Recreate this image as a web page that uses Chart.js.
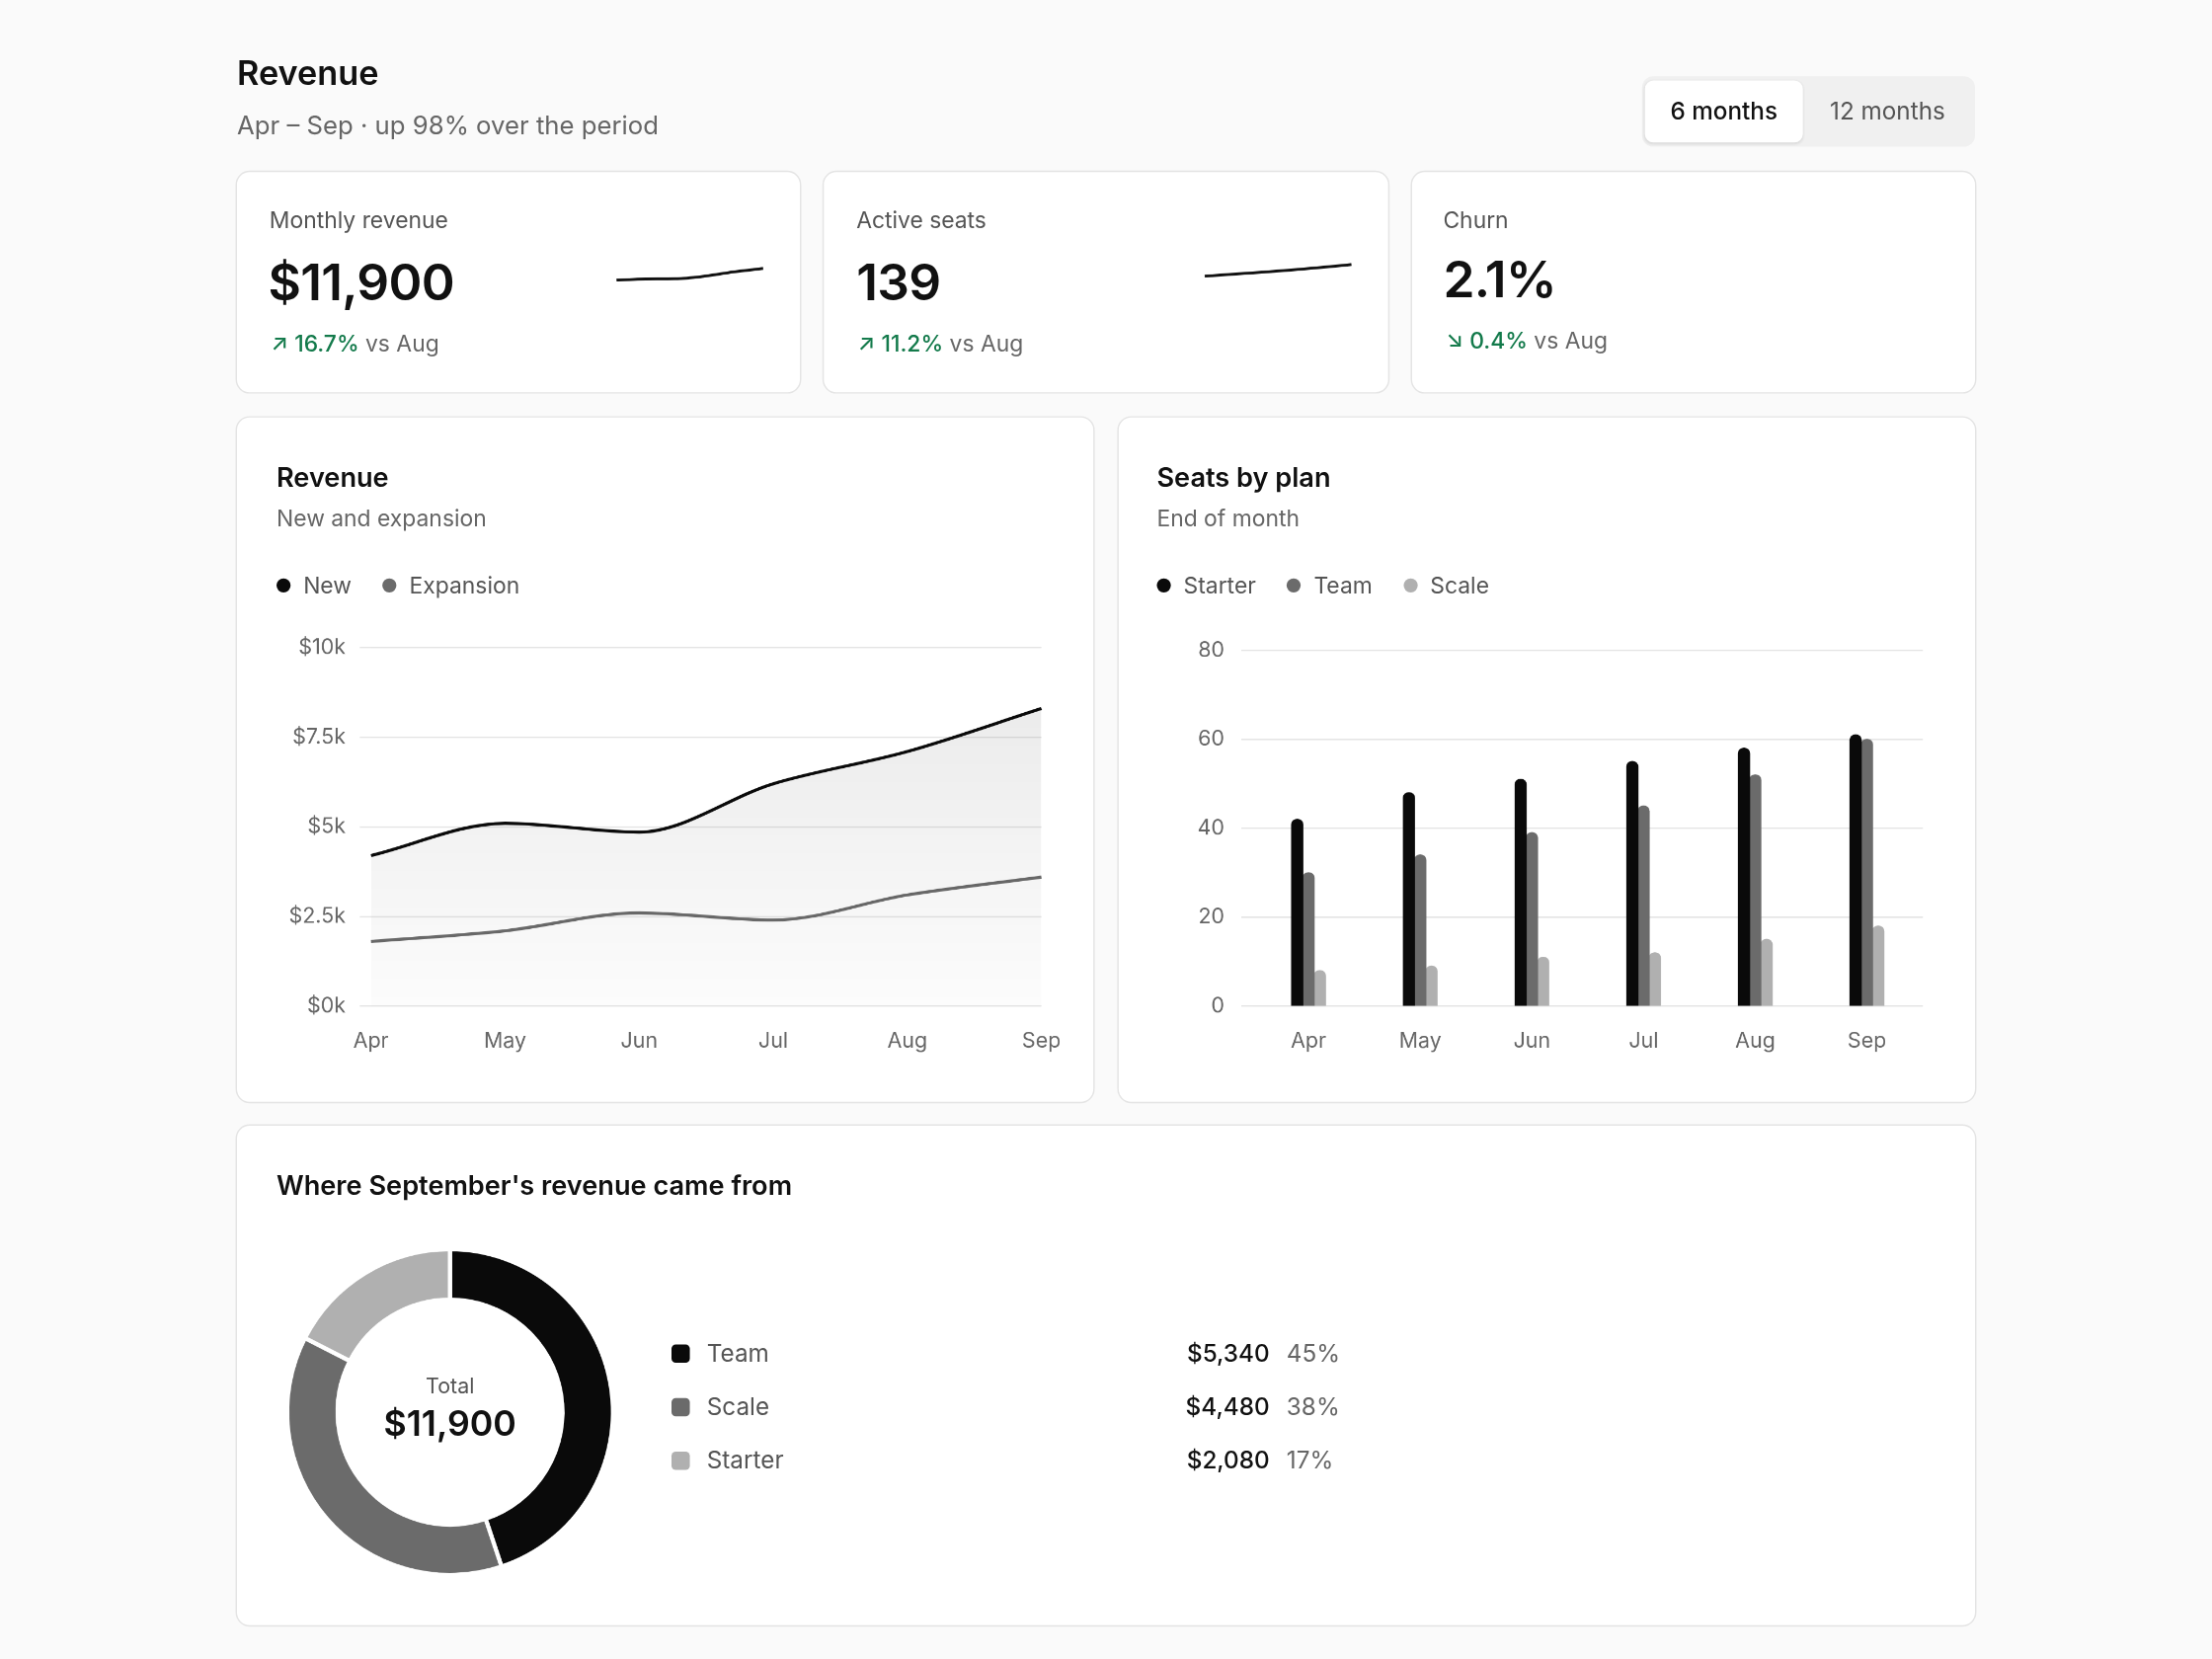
<!DOCTYPE html>
<html>
<head>
<meta charset="utf-8">
<script src="https://cdn.jsdelivr.net/npm/chart.js@4.4.1/dist/chart.umd.min.js"></script>
<style>
  html, body { margin: 0; padding: 0; background: #fafafa; overflow: hidden; }
  body { width: 2240px; height: 1680px; font-family: Inter, "Noto Sans", sans-serif; color: #111; }
  #page { position: absolute; left: 0; top: 0; width: 1568px; height: 1176px; transform: scale(1.428571); transform-origin: 0 0; }
  .abs { position: absolute; }
  .card { position: absolute; background: #fff; border: 1.5px solid #e4e4e4; border-radius: 10px; box-sizing: border-box; }
  .lbl { font-size: 16px; color: #555; }
  .big { font-size: 36px; font-weight: 600; letter-spacing: -0.5px; }
  .delta { font-size: 16px; color: #666; }
  .delta b { color: #137a4b; font-weight: 500; }
  .ttl { font-size: 19px; font-weight: 600; }
  .sub { font-size: 16px; color: #666; }
  .leg { font-size: 16px; color: #555; display: flex; gap: 22px; }
  .leg span { display: inline-flex; align-items: center; }
  .dot { width: 10px; height: 10px; border-radius: 50%; display: inline-block; margin-right: 9px; }
  .sq { width: 13px; height: 13px; border-radius: 3px; display: inline-block; margin-right: 12px; }
</style>
</head>
<body>
<div id="page">
  <div class="abs" style="left:168px;top:37px;font-size:24px;font-weight:600;">Revenue</div>
  <div class="abs" style="left:168px;top:78px;font-size:18px;color:#666;">Apr – Sep · up 98% over the period</div>
  <div class="abs" style="left:1164px;top:54px;width:236px;height:50px;background:#f0f0f0;border-radius:8px;"></div>
  <div class="abs" style="left:1166px;top:57px;width:112px;height:44px;background:#fff;border-radius:6px;box-shadow:0 1px 2px rgba(0,0,0,0.1);font-size:17px;line-height:44px;text-align:center;font-weight:500;">6 months</div>
  <div class="abs" style="left:1282px;top:57px;width:112px;height:44px;font-size:17px;line-height:44px;text-align:center;color:#555;">12 months</div>

  <div class="card" style="left:167px;top:121px;width:401px;height:158px;"></div>
  <div class="abs lbl" style="left:191px;top:146px;">Monthly revenue</div>
  <div class="abs big" style="left:190px;top:178px;">$11,900</div>
  <div class="abs delta" style="left:192px;top:233px;"><b>↗ 16.7%</b> vs Aug</div>
  <div class="abs" style="left:434px;top:176px;width:110px;height:34px;"><canvas id="spark1"></canvas></div>

  <div class="card" style="left:583px;top:121px;width:402px;height:158px;"></div>
  <div class="abs lbl" style="left:607px;top:146px;">Active seats</div>
  <div class="abs big" style="left:607px;top:178px;">139</div>
  <div class="abs delta" style="left:608px;top:233px;"><b>↗ 11.2%</b> vs Aug</div>
  <div class="abs" style="left:851px;top:176px;width:110px;height:34px;"><canvas id="spark2"></canvas></div>

  <div class="card" style="left:1000px;top:121px;width:401px;height:158px;"></div>
  <div class="abs lbl" style="left:1023px;top:146px;">Churn</div>
  <div class="abs big" style="left:1023px;top:176px;">2.1%</div>
  <div class="abs delta" style="left:1025px;top:231px;"><b>↘ 0.4%</b> vs Aug</div>

  <div class="card" style="left:167px;top:295px;width:609px;height:487px;"></div>
  <div class="abs ttl" style="left:196px;top:327px;">Revenue</div>
  <div class="abs sub" style="left:196px;top:357px;">New and expansion</div>
  <div class="abs leg" style="left:196px;top:405px;">
    <span><i class="dot" style="background:#0a0a0a"></i>New</span>
    <span><i class="dot" style="background:#6b6b6b"></i>Expansion</span>
  </div>
  <div class="abs" style="left:196px;top:440px;width:564px;height:315px;"><canvas id="revChart"></canvas></div>

  <div class="card" style="left:792px;top:295px;width:609px;height:487px;"></div>
  <div class="abs ttl" style="left:820px;top:327px;">Seats by plan</div>
  <div class="abs sub" style="left:820px;top:357px;">End of month</div>
  <div class="abs leg" style="left:820px;top:405px;">
    <span><i class="dot" style="background:#0a0a0a"></i>Starter</span>
    <span><i class="dot" style="background:#6b6b6b"></i>Team</span>
    <span><i class="dot" style="background:#b0b0b0"></i>Scale</span>
  </div>
  <div class="abs" style="left:820px;top:440px;width:560px;height:315px;"><canvas id="seatChart"></canvas></div>

  <div class="card" style="left:167px;top:797px;width:1234px;height:356px;"></div>
  <div class="abs ttl" style="left:196px;top:829px;">Where September's revenue came from</div>
  <div class="abs" style="left:199px;top:881px;width:240px;height:240px;"><canvas id="donut"></canvas></div>
  <div class="abs" style="left:219px;top:973px;width:200px;text-align:center;font-size:15px;color:#555;">Total</div>
  <div class="abs" style="left:219px;top:994px;width:200px;text-align:center;font-size:25px;font-weight:600;">$11,900</div>
  <div id="mixList"></div>
</div>
<script>
  // Revenue by month, $k
  const months = ["Apr", "May", "Jun", "Jul", "Aug", "Sep"];
  const newRevenue = [4.2, 5.1, 4.85, 6.2, 7.1, 8.3];
  const expansionRevenue = [1.8, 2.1, 2.6, 2.4, 3.1, 3.6];
  const revenueTicks = [0, 2.5, 5, 7.5, 10];

  // Seats by plan
  const starterSeats = [42, 48, 51, 55, 58, 61];
  const teamSeats = [30, 34, 39, 45, 52, 60];
  const scaleSeats = [8, 9, 11, 12, 15, 18];

  // Sparklines
  const revenueTotals = [6.0, 6.6, 6.7, 8.0, 10.2, 11.9];
  const seatTotals = [80, 91, 101, 112, 125, 139];

  // September mix
  const mixLabels = ["Team", "Scale", "Starter"];
  const mixValues = [5340, 4480, 2080];
  const mixColors = ["#0a0a0a", "#6b6b6b", "#b0b0b0"];

  const DPR = 2.5;
  Chart.defaults.font.family = "Inter, 'Noto Sans', sans-serif";
  Chart.defaults.animation = false;

  function drawSpark(id, data) {
    new Chart(document.getElementById(id), {
      type: "line",
      data: { labels: months, datasets: [{ data: data, borderColor: "#111", borderWidth: 2, pointRadius: 0, cubicInterpolationMode: "monotone" }] },
      options: {
        devicePixelRatio: DPR, responsive: true, maintainAspectRatio: false,
        plugins: { legend: { display: false }, tooltip: { enabled: false } },
        scales: { x: { display: false }, y: { display: false } },
        layout: { padding: 3 }
      }
    });
  }
  drawSpark("spark1", revenueTotals);
  drawSpark("spark2", seatTotals);

  const tickStyle = { color: "#666", font: { size: 15 } };

  new Chart(document.getElementById("revChart"), {
    type: "line",
    data: {
      labels: months,
      datasets: [
        {
          label: "New", data: newRevenue, borderColor: "#0a0a0a", borderWidth: 2.2, pointRadius: 0,
          cubicInterpolationMode: "monotone", fill: "origin",
          backgroundColor: function (c) {
            const a = c.chart.chartArea;
            if (!a) return "rgba(0,0,0,0.05)";
            const g = c.chart.ctx.createLinearGradient(0, a.top, 0, a.bottom);
            g.addColorStop(0, "rgba(0,0,0,0.09)");
            g.addColorStop(1, "rgba(0,0,0,0.01)");
            return g;
          }
        },
        {
          label: "Expansion", data: expansionRevenue, borderColor: "#6b6b6b", borderWidth: 2.2, pointRadius: 0,
          cubicInterpolationMode: "monotone", fill: false
        }
      ]
    },
    options: {
      devicePixelRatio: DPR, responsive: true, maintainAspectRatio: false,
      layout: { padding: { top: 13, right: 21, bottom: 0, left: 0 } },
      plugins: { legend: { display: false }, tooltip: { enabled: false } },
      scales: {
        x: { grid: { display: false }, border: { display: false }, ticks: { ...tickStyle, padding: 8 } },
        y: {
          min: 0, max: 10, border: { display: false },
          grid: { color: "#e4e4e4" },
          afterBuildTicks: (s) => { s.ticks = revenueTicks.map((v) => ({ value: v })); },
          afterFit: (s) => { s.width = 67; },
          ticks: { ...tickStyle, padding: 10, callback: (v) => "$" + v + "k" }
        }
      }
    }
  });

  new Chart(document.getElementById("seatChart"), {
    type: "bar",
    data: {
      labels: months,
      datasets: [
        { label: "Starter", data: starterSeats, backgroundColor: "#0a0a0a" },
        { label: "Team", data: teamSeats, backgroundColor: "#6b6b6b" },
        { label: "Scale", data: scaleSeats, backgroundColor: "#b0b0b0" }
      ]
    },
    options: {
      devicePixelRatio: DPR, responsive: true, maintainAspectRatio: false,
      datasets: { bar: { barThickness: 8, categoryPercentage: 0.44, borderRadius: { topLeft: 4, topRight: 4 }, borderSkipped: "bottom" } },
      layout: { padding: { top: 13, right: 17, bottom: 0, left: 0 } },
      plugins: { legend: { display: false }, tooltip: { enabled: false } },
      scales: {
        x: { grid: { display: false }, border: { display: false }, ticks: { ...tickStyle, padding: 8 } },
        y: {
          min: 0, max: 80, border: { display: false },
          grid: { color: "#e4e4e4" },
          afterFit: (s) => { s.width = 68; },
          ticks: { ...tickStyle, stepSize: 20, padding: 12 }
        }
      }
    }
  });

  new Chart(document.getElementById("donut"), {
    type: "doughnut",
    data: { labels: mixLabels, datasets: [{ data: mixValues, backgroundColor: mixColors, borderColor: "#fff", borderWidth: 3 }] },
    options: {
      devicePixelRatio: DPR, responsive: true, maintainAspectRatio: false, cutout: "69%",
      layout: { padding: 3 },
      plugins: { legend: { display: false }, tooltip: { enabled: false } }
    }
  });

  // legend rows for the mix
  const total = mixValues.reduce((a, b) => a + b, 0);
  const list = document.getElementById("mixList");
  mixLabels.forEach(function (name, i) {
    const y = 949 + i * 38;
    list.insertAdjacentHTML("beforeend",
      '<div class="abs" style="left:476px;top:' + y + 'px;font-size:17px;color:#555;display:flex;align-items:center;">' +
      '<i class="sq" style="background:' + mixColors[i] + '"></i>' + name + '</div>' +
      '<div class="abs" style="left:700px;width:200px;text-align:right;top:' + y + 'px;font-size:17px;font-weight:500;">$' + mixValues[i].toLocaleString("en-US") + '</div>' +
      '<div class="abs" style="left:912px;top:' + y + 'px;font-size:17px;color:#666;">' + Math.round(mixValues[i] / total * 100) + '%</div>');
  });
</script>
</body>
</html>
